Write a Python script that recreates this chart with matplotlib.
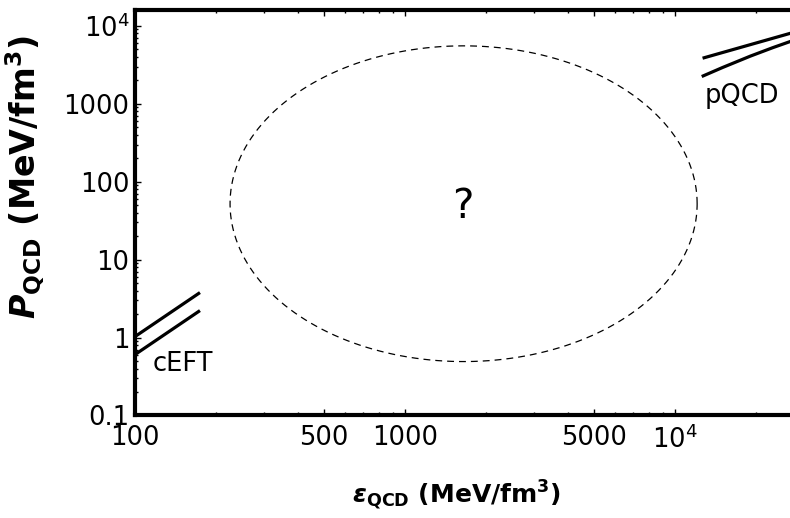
import numpy as np
import matplotlib
matplotlib.use("Agg")
import matplotlib.pyplot as plt
from matplotlib.ticker import FixedLocator, FixedFormatter, NullFormatter, LogLocator

# chiral effective field theory band (energy density, pressure in MeV/fm^3)
ceft_eps = [100, 174]
ceft_p_upper = [1.03, 3.78]
ceft_p_lower = [0.605, 2.22]

# perturbative QCD band
pqcd_eps_upper = [12650, 30000]
pqcd_p_upper = [3850, 9000]
pqcd_eps_lower = [12560, 15000, 19000, 23000, 26700, 30000]
pqcd_p_lower = [2240, 2924, 4090, 5250, 6300, 7230]

# unknown region: ellipse in log10 space (centre, semi-axes in decades)
unknown_center_log = [3.217, 1.718]
unknown_semi_log = [0.865, 2.026]

x_ticks = [100, 500, 1000, 5000, 10000]
x_ticklabels = ["100", "500", "1000", "5000", r"$10^4$"]
y_ticks = [0.1, 1, 10, 100, 1000, 10000]
y_ticklabels = ["0.1", "1", "10", "100", "1000", r"$10^4$"]

xlim = (100, 30000)
ylim = (0.1, 16000)

fig = plt.figure(figsize=(7.9, 5.18), dpi=100)
ax = fig.add_axes([0.1709, 0.1979, 0.8466, 0.7828])
ax.set_xscale("log")
ax.set_yscale("log")
ax.set_xlim(*xlim)
ax.set_ylim(*ylim)

# bands
ax.plot(ceft_eps, ceft_p_upper, color="black", lw=2.3, solid_capstyle="butt")
ax.plot(ceft_eps, ceft_p_lower, color="black", lw=2.3, solid_capstyle="butt")
ax.plot(pqcd_eps_upper, pqcd_p_upper, color="black", lw=2.3, solid_capstyle="butt")
ax.plot(pqcd_eps_lower, pqcd_p_lower, color="black", lw=2.3, solid_capstyle="butt",
        solid_joinstyle="round")

# dashed ellipse of the unknown region
t = np.linspace(0, 2 * np.pi, 400)
ex = 10 ** (unknown_center_log[0] + unknown_semi_log[0] * np.cos(t))
ey = 10 ** (unknown_center_log[1] + unknown_semi_log[1] * np.sin(t))
ax.plot(ex, ey, color="black", lw=0.9, dashes=(5.5, 4))

ax.text(1640, 34, "?", fontsize=29, ha="center", va="baseline")
ax.text(116, 0.37, "cEFT", fontsize=18.5, ha="left", va="baseline")
ax.text(12900, 1030, "pQCD", fontsize=18.5, ha="left", va="baseline")

# ticks
ax.xaxis.set_major_locator(FixedLocator(x_ticks))
ax.xaxis.set_major_formatter(FixedFormatter(x_ticklabels))
ax.yaxis.set_major_locator(FixedLocator(y_ticks))
ax.yaxis.set_major_formatter(FixedFormatter(y_ticklabels))
ax.xaxis.set_minor_locator(LogLocator(base=10, subs=np.arange(2, 10)))
ax.yaxis.set_minor_locator(LogLocator(base=10, subs=np.arange(2, 10)))
ax.xaxis.set_minor_formatter(NullFormatter())
ax.yaxis.set_minor_formatter(NullFormatter())

ax.tick_params(which="both", direction="in", top=True, right=True, width=1, color="black")
ax.tick_params(which="major", length=4.5)
ax.tick_params(which="minor", length=2.5)
ax.tick_params(axis="x", which="major", labelsize=18.5, pad=7)
ax.tick_params(axis="y", which="major", labelsize=18.5, pad=4)

for sp in ax.spines.values():
    sp.set_linewidth(3)

ax.set_xlabel(r"$\boldsymbol{\epsilon}_{\mathbf{QCD}}$ (MeV/fm$^{\mathbf{3}}$)",
              fontsize=18, fontweight="bold")
ax.set_ylabel(r"$\mathbfit{P}_{\mathbf{QCD}}$ (MeV/fm$^{\mathbf{3}}$)",
              fontsize=24, fontweight="bold")
ax.xaxis.set_label_coords(0.481, -0.154)
ax.yaxis.set_label_coords(-0.133, 0.588)

fig.savefig("out.png", dpi=100)
